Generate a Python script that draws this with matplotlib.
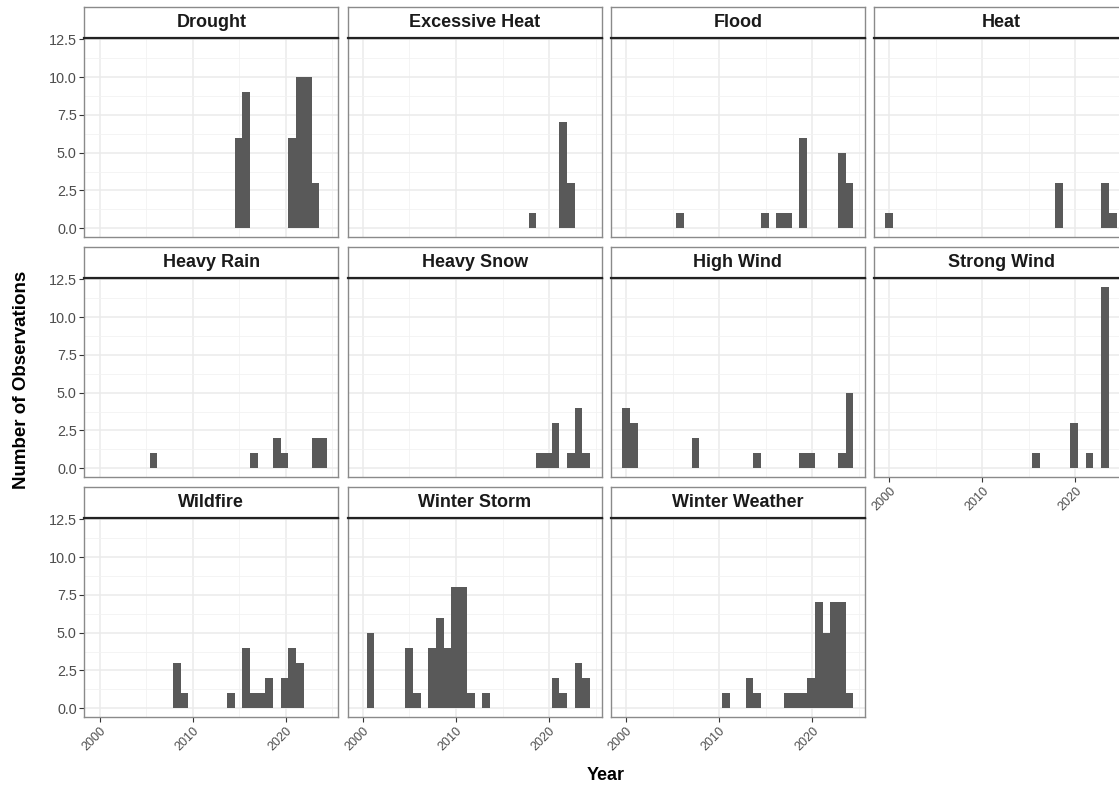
import numpy as np
import matplotlib
matplotlib.use("Agg")
import matplotlib.pyplot as plt
from matplotlib.ticker import MultipleLocator

plt.rcParams['font.family'] = ['Liberation Sans', 'DejaVu Sans']

# -------------------------------
# Data: counts per histogram bin (30 bins over 2000-2024)
# -------------------------------
year_min, year_max, n_bins = 2000, 2024, 30

categories = ["Drought", "Excessive Heat", "Flood", "Heat",
              "Heavy Rain", "Heavy Snow", "High Wind", "Strong Wind",
              "Wildfire", "Winter Storm", "Winter Weather"]

drought        = [0,0,0,0,0, 0,0,0,0,0, 0,0,0,0,0, 0,0,0,6,9, 0,0,0,0,0, 6,10,10,3,0]
excessive_heat = [0,0,0,0,0, 0,0,0,0,0, 0,0,0,0,0, 0,0,0,0,0, 0,0,1,0,0, 0,7,3,0,0]
flood          = [0,0,0,0,0, 0,0,1,0,0, 0,0,0,0,0, 0,0,0,1,0, 1,1,0,6,0, 0,0,0,5,3]
heat           = [1,0,0,0,0, 0,0,0,0,0, 0,0,0,0,0, 0,0,0,0,0, 0,0,3,0,0, 0,0,0,3,1]
heavy_rain     = [0,0,0,0,0, 0,0,1,0,0, 0,0,0,0,0, 0,0,0,0,0, 1,0,0,2,1, 0,0,0,2,2]
heavy_snow     = [0,0,0,0,0, 0,0,0,0,0, 0,0,0,0,0, 0,0,0,0,0, 0,0,0,1,1, 3,0,1,4,1]
high_wind      = [4,3,0,0,0, 0,0,0,0,2, 0,0,0,0,0, 0,0,1,0,0, 0,0,0,1,1, 0,0,0,1,5]
strong_wind    = [0,0,0,0,0, 0,0,0,0,0, 0,0,0,0,0, 0,0,0,0,1, 0,0,0,0,3, 0,1,0,12,0]
wildfire       = [0,0,0,0,0, 0,0,0,0,0, 3,1,0,0,0, 0,0,1,0,4, 1,1,2,0,2, 4,3,0,0,0]
winter_storm   = [0,5,0,0,0, 0,4,1,0,4, 6,4,8,8,1, 0,1,0,0,0, 0,0,0,0,0, 2,1,0,3,2]
winter_weather = [0,0,0,0,0, 0,0,0,0,0, 0,0,0,1,0, 0,2,1,0,0, 0,1,1,1,2, 7,5,7,7,1]

counts = [drought, excessive_heat, flood, heat, heavy_rain, heavy_snow,
          high_wind, strong_wind, wildfire, winter_storm, winter_weather]

# ggplot-style bins: centred on year_min, width = range / (bins - 1)
bin_w = (year_max - year_min) / (n_bins - 1)
centers = year_min + np.arange(n_bins) * bin_w
lo, hi = year_min - bin_w / 2, year_max + bin_w / 2
pad = 0.05 * (hi - lo)
xlim = (lo - pad, hi + pad)
ymax = max(max(c) for c in counts)
ylim = (-0.05 * ymax, ymax * 1.05)

# -------------------------------
# Layout (pixels)
# -------------------------------
W, H = 1119, 787
fig = plt.figure(figsize=(W / 100, H / 100), dpi=100)

col_left = [84.3, 347.5, 610.7, 873.9]
panel_w = 254.2
row_top = [37.7, 277.7, 517.7]
panel_h = 199.6
strip_h = 30.4

def px_rect(x, y_top, w, h):
    return [x / W, 1 - (y_top + h) / H, w / W, h / H]

BORDER = "#8a8a8a"
TICK_COL = "#4D4D4D"

for i, (name, vals) in enumerate(zip(categories, counts)):
    r, c = divmod(i, 4)
    ax = fig.add_axes(px_rect(col_left[c], row_top[r], panel_w, panel_h))
    ax.bar(centers, vals, width=bin_w, color="#595959", edgecolor="none", zorder=3)
    ax.set_xlim(xlim)
    ax.set_ylim(ylim)
    ax.xaxis.set_major_locator(MultipleLocator(10))
    ax.xaxis.set_minor_locator(MultipleLocator(5))
    ax.yaxis.set_major_locator(MultipleLocator(2.5))
    ax.yaxis.set_minor_locator(MultipleLocator(1.25))
    ax.grid(which="major", color="#EBEBEB", linewidth=1.1, zorder=0)
    ax.grid(which="minor", color="#F2F2F2", linewidth=0.6, zorder=0)
    for s in ax.spines.values():
        s.set_color(BORDER)
        s.set_linewidth(1.0)
    ax.tick_params(which="minor", length=0)
    ax.tick_params(which="major", length=3.5, width=0.8, color="#333333",
                   labelcolor=TICK_COL)

    # y axis only on the first column
    if c == 0:
        ax.tick_params(axis="y", labelsize=10.4, pad=2)
        ax.set_yticklabels([f"{v:.1f}" for v in ax.get_yticks()])
    else:
        ax.tick_params(axis="y", left=False, labelleft=False)

    # x axis only where no panel below
    if i + 4 >= len(categories):
        ax.tick_params(axis="x", labelsize=9, pad=2)
        ticks = [2000, 2010, 2020]
        ax.set_xticks(ticks)
        ax.set_xticklabels([str(t) for t in ticks], rotation=45, ha="right",
                           va="top", rotation_mode="anchor")
    else:
        ax.tick_params(axis="x", bottom=False, labelbottom=False)

    # facet strip
    sax = fig.add_axes(px_rect(col_left[c], row_top[r] - strip_h, panel_w, strip_h))
    sax.set_facecolor("white")
    sax.set_xticks([])
    sax.set_yticks([])
    for s in sax.spines.values():
        s.set_color(BORDER)
        s.set_linewidth(1.0)
    sax.spines["bottom"].set_color("#222222")
    sax.spines["bottom"].set_linewidth(1.6)
    sax.text(0.5, 0.5, name, ha="center", va="center", fontsize=13,
             fontweight="bold", color="#1A1A1A", transform=sax.transAxes)

fig.text(22 / W, 1 - 380 / H, "Number of Observations", rotation=90,
         ha="center", va="center", fontsize=13.5, fontweight="bold", color="black")
fig.text(606 / W, 1 - 775 / H, "Year", ha="center", va="center",
         fontsize=13, fontweight="bold", color="black")

fig.savefig("out.png", dpi=100, facecolor="white")
